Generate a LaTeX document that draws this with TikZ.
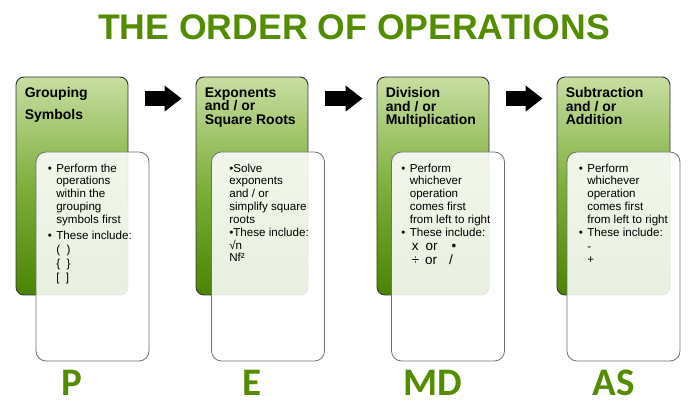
\documentclass[tikz,border=0pt]{standalone}
\usepackage{fontspec}
\setmainfont{Liberation Sans}
\newfontfamily\lettersfont{Carlito}
\usetikzlibrary{arrows.meta}
\definecolor{opgreen}{RGB}{84,140,0}
\definecolor{gtop}{RGB}{200,222,162}
\definecolor{gmid}{RGB}{126,175,60}
\definecolor{gbot}{RGB}{74,132,4}
\definecolor{edgegray}{RGB}{112,112,112}
\newcommand{\bu}{\makebox[8.5pt][l]{\textbullet}}

\begin{document}
\begin{tikzpicture}[
    x=1pt, y=1pt,
    stage/.style={draw=black!80, line width=0.9pt, rounded corners=8pt,
        top color=gtop, bottom color=gbot, middle color=gmid,
        minimum width=112pt, minimum height=218pt, inner sep=0pt},
    detail/.style={draw=edgegray, line width=0.8pt, rounded corners=10pt,
        fill=white, fill opacity=0.88,
        minimum width=113pt, minimum height=209pt, inner sep=0pt},
    heading/.style={anchor=north west, inner sep=0pt, align=left,
        font=\bfseries\fontsize{14}{13.5}\selectfont},
    body/.style={anchor=north west, inner sep=0pt,
        font=\fontsize{11.6}{12.8}\selectfont},
    letter/.style={anchor=base, text=opgreen, inner sep=0pt,
        font=\lettersfont\bfseries\fontsize{39}{39}\selectfont},
    flow/.style={line width=15pt, -{Triangle[length=17pt, width=25pt]}}
]
\useasboundingbox (0,0) rectangle (699,411);

\node[anchor=base, text=opgreen, inner sep=0pt,
    font=\bfseries\fontsize{35.6}{36}\selectfont] (title) at (354,371.5)
    {THE ORDER OF OPERATIONS};

\node[stage] (gP) at (72,225) {};
\node[stage] (gE) at (252,225) {};
\node[stage] (gMD) at (433,225) {};
\node[stage, minimum width=113pt] (gAS) at (613.5,225) {};

\draw[flow] ([xshift=17pt,yshift=-22pt]gP.north east) -- ([xshift=-14pt,yshift=-22pt]gE.north west);
\draw[flow] ([xshift=17pt,yshift=-22pt]gE.north east) -- ([xshift=-14pt,yshift=-22pt]gMD.north west);
\draw[flow] ([xshift=17pt,yshift=-22pt]gMD.north east) -- ([xshift=-14pt,yshift=-22pt]gAS.north west);

\node[heading] (hP) at ([xshift=9pt,yshift=-11pt]gP.north west) {Grouping\\[8.5pt]Symbols};
\node[heading] (hE) at ([xshift=9pt,yshift=-11pt]gE.north west) {Exponents\\and / or\\Square Roots};
\node[heading] (hMD) at ([xshift=9pt,yshift=-11pt]gMD.north west) {Division\\and / or\\Multiplication};
\node[heading] (hAS) at ([xshift=9pt,yshift=-11pt]gAS.north west) {Subtraction\\and / or\\Addition};

\node[detail] (wP) at (92.5,154.5) {};
\node[detail] (wE) at (268,154.5) {};
\node[detail] (wMD) at (448,154.5) {};
\node[detail] (wAS) at (623.5,154.5) {};

\node[body] (tP) at ([xshift=12pt,yshift=-11.3pt]wP.north west) {%
  \begin{tabular}{@{}l@{}l@{}}
  \bu & Perform the\\
      & operations\\
      & within the\\
      & grouping\\
      & symbols first\\[3.2pt]
  \bu & These include:\\[1.2pt]
      & (\ \ )\\[1.2pt]
      & \{\ \ \}\\[1.2pt]
      & [\ \ ]
  \end{tabular}};

\node[body] (tE) at ([xshift=18pt,yshift=-11.3pt]wE.north west) {%
  \begin{tabular}{@{}l@{}}
  \textbullet Solve\\
  exponents\\
  and / or\\
  simplify square\\
  roots\\
  \textbullet These include:\\
  √n\\
  Nf²
  \end{tabular}};

\node[body] (tMD) at ([xshift=10pt,yshift=-11.3pt]wMD.north west) {%
  \begin{tabular}{@{}l@{}l@{}}
  \bu & Perform\\
      & whichever\\
      & operation\\
      & comes first\\
      & from left to right\\
  \bu & These include:\\[2pt]
      & {\fontsize{13.5}{14}\selectfont\hspace{2pt}x\hspace{7pt}or\hspace{14pt}\textbullet}\\
      & {\fontsize{13.5}{14}\selectfont\hspace{2pt}÷\hspace{6pt}or\hspace{12pt}/}
  \end{tabular}};

\node[body] (tAS) at ([xshift=12pt,yshift=-11.3pt]wAS.north west) {%
  \begin{tabular}{@{}l@{}l@{}}
  \bu & Perform\\
      & whichever\\
      & operation\\
      & comes first\\
      & from left to right\\
  \bu & These include:\\[2pt]
      & -\\
      & +
  \end{tabular}};

\coordinate (lbase) at (0,15);
\node[letter] (lP) at (gP |- lbase) {P};
\node[letter] (lE) at (gE |- lbase) {E};
\node[letter] (lMD) at (gMD |- lbase) {MD};
\node[letter] (lAS) at (gAS |- lbase) {AS};

\end{tikzpicture}
\end{document}
